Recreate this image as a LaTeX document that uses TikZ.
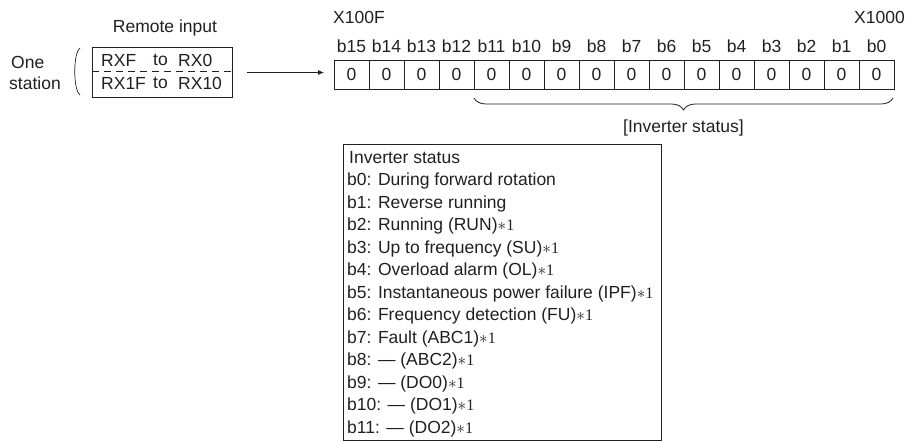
\documentclass[tikz,border=0pt]{standalone}
\usepackage{fontspec}
\setmainfont{Liberation Sans}
\newfontfamily\serifface{Liberation Serif}
\usetikzlibrary{decorations.pathreplacing,arrows.meta}
\definecolor{ink}{RGB}{35,31,32}
\tikzset{
  base/.style={font=\fontsize{17.5}{20}\selectfont, text=ink, inner sep=0pt},
  cell/.style={base, draw=ink, line width=0.9pt, minimum width=35pt, minimum height=29pt},
  bitlbl/.style={base},
  lbl/.style={base, anchor=west},
  boxline/.style={base, anchor=west},
  frame/.style={draw=ink, line width=0.9pt},
}
\newcommand{\fn}{{\serifface\fontsize{16}{16}\selectfont$\ast$1}}
\begin{document}
\begin{tikzpicture}[x=1pt,y=-1pt]
\useasboundingbox (0,0) rectangle (906,441);
% bit cells
\foreach \k in {0,...,15}{
  \pgfmathtruncatemacro{\b}{15-\k}
  \node[cell] (c\k) at (351.5+35*\k, 74.5) {0};
  \node[bitlbl] (bl\k) at (351.5+35*\k, 46) {b\b};
}
\node[base, anchor=west] (xf) at (333,17) {X100F};
\node[base, anchor=east] (x0) at (905,17) {X1000};
% remote input
\node[base] (ri) at (165,28) {Remote input};
\node[frame, minimum width=140pt, minimum height=50pt, anchor=north west, inner sep=0pt] (rbox) at (92,47) {};
\coordinate (dl) at (92,71);
\coordinate (dr) at (232,71);
\draw[ink, line width=0.9pt, dash pattern=on 7pt off 5pt] (dl) -- (dr);
\node[lbl] (r1a) at (101,60) {RXF};
\node[lbl] (r1b) at (153,60) {to};
\node[lbl] (r1c) at (178,60) {RX0};
\node[lbl] (r2a) at (101,83) {RX1F};
\node[lbl] (r2b) at (153,83) {to};
\node[lbl] (r2c) at (178,83) {RX10};
\node[lbl] (one) at (11,62) {One};
\node[lbl] (sta) at (9,83) {station};
\coordinate (pt) at (80,48);
\coordinate (pb) at (80,95);
\draw[ink, line width=0.7pt] (pt) .. controls (73,53) and (73,90) .. (pb);
% arrow
\coordinate (as) at (247,72.5);
\coordinate (ae) at (324,72.5);
\draw[ink, line width=0.8pt, -{Latex[length=6pt,width=5pt]}] (as) -- (ae);
% brace
\coordinate (bl) at (474,98);
\coordinate (br) at (893,98);
\draw[ink, line width=0.8pt, decorate, decoration={brace, mirror, amplitude=12pt, aspect=0.5}] (bl) -- (br);
\node[base] (invs) at (683.5,128) {[Inverter status]};
% info box
\node[frame, minimum width=318pt, minimum height=296pt, anchor=north west, inner sep=0pt] (info) at (343,144) {};
\node[boxline] (t) at (349,158) {Inverter status};
\node[boxline] (l0) at (347,181) {b0: During forward rotation};
\node[boxline] (l1) at (347,203.5) {b1: Reverse running};
\node[boxline] (l2) at (347,226) {b2: Running (RUN)\fn};
\node[boxline] (l3) at (347,248.5) {b3: Up to frequency (SU)\fn};
\node[boxline] (l4) at (347,271) {b4: Overload alarm (OL)\fn};
\node[boxline] (l5) at (347,293.5) {b5: Instantaneous power failure (IPF)\fn};
\node[boxline] (l6) at (347,316) {b6: Frequency detection (FU)\fn};
\node[boxline] (l7) at (347,338.5) {b7: Fault (ABC1)\fn};
\node[boxline] (l8) at (347,361) {b8: — (ABC2)\fn};
\node[boxline] (l9) at (347,383.5) {b9: — (DO0)\fn};
\node[boxline] (l10) at (347,406) {b10: — (DO1)\fn};
\node[boxline] (l11) at (347,428.5) {b11: — (DO2)\fn};
\end{tikzpicture}
\end{document}
